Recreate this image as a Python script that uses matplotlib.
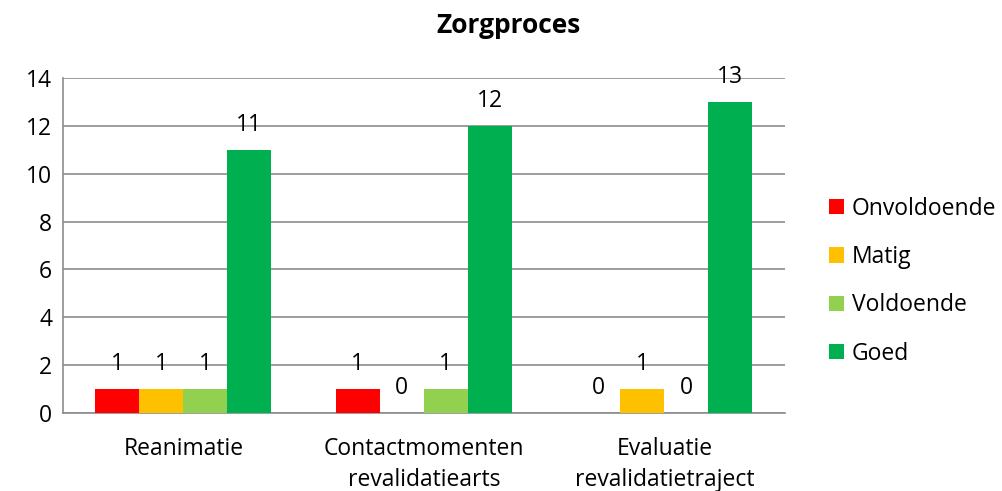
import numpy as np
import matplotlib.pyplot as plt

categories = ["Reanimatie", "Contactmomenten\nrevalidatiearts", "Evaluatie\nrevalidatietraject"]
series = ["Onvoldoende", "Matig", "Voldoende", "Goed"]
onvoldoende = [1, 1, 0]
matig = [1, 0, 1]
voldoende = [1, 1, 0]
goed = [11, 12, 13]
colors = ["#FF0000", "#FFC000", "#92D050", "#00B050"]

plt.rcParams['font.family'] = ['Open Sans', 'DejaVu Sans']
fs = 16.5

fig = plt.figure(figsize=(10.02, 4.91), dpi=100)
ax = fig.add_axes([0.063, 0.159, 0.72, 0.682])

x = np.arange(len(categories))
width = 0.183
values = [onvoldoende, matig, voldoende, goed]
for i, (name, vals, col) in enumerate(zip(series, values, colors)):
    pos = x + (i - 1.5) * width
    ax.bar(pos, vals, width, color=col, label=name, zorder=3)
    for px, v in zip(pos, vals):
        ax.annotate(str(v), (px, v), xytext=(0, 18), textcoords='offset points',
                    ha='center', va='center', fontsize=fs, color='black')

ax.set_xlim(-0.5, 2.5)
ax.set_ylim(0, 14)
ax.set_yticks(range(0, 15, 2))
ax.set_xticks(x)
ax.set_xticklabels(categories, fontsize=fs, linespacing=1.4)
ax.tick_params(axis='y', labelsize=fs, length=0, pad=8)
ax.tick_params(axis='x', length=0, pad=17)
ax.yaxis.grid(True, color='#8C8C8C', linewidth=1.2, zorder=0)
for s in ['top', 'right']:
    ax.spines[s].set_visible(False)
for s in ['left', 'bottom']:
    ax.spines[s].set_color('#8C8C8C')
    ax.spines[s].set_linewidth(1.2)

fig.suptitle("Zorgproces", x=0.507, y=0.975, fontsize=19, fontweight='bold')

ax.legend(loc='center left', bbox_to_anchor=(1.033, 0.393), frameon=False,
          fontsize=fs, handlelength=0.65, handleheight=0.65, handletextpad=0.35,
          labelspacing=1.06)

fig.savefig("out.png", dpi=100)
